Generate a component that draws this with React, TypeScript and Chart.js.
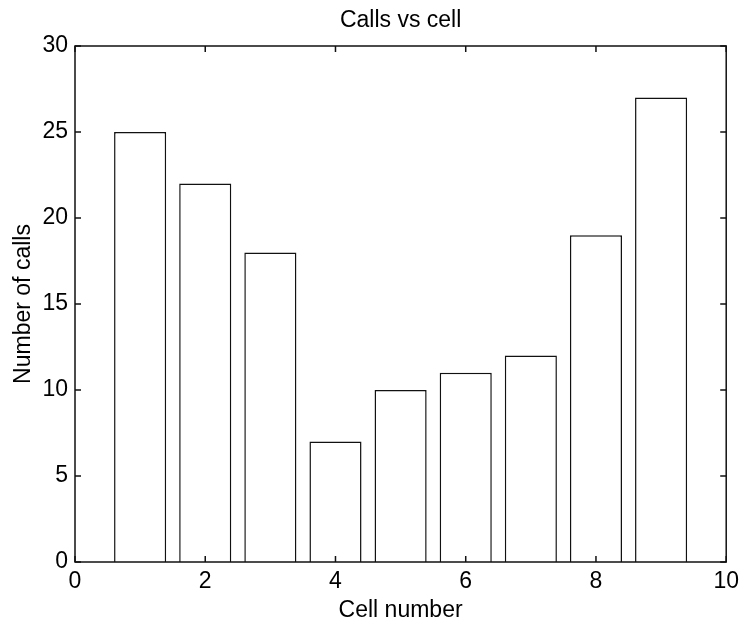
import React, { useEffect, useRef } from "react";
import { Chart, registerables } from "chart.js";

Chart.register(...registerables);

const cells = [1, 2, 3, 4, 5, 6, 7, 8, 9];
const calls = [25, 22, 18, 7, 10, 11, 12, 19, 27];
const titleText = "Calls vs cell";
const xLabel = "Cell number";
const yLabel = "Number of calls";

const FONT = "'Liberation Sans', Arial, Helvetica, sans-serif";
const FS = 23;

const framePlugin = {
  id: "frame",
  afterDraw(chart: any) {
    const { ctx, chartArea } = chart;
    const { left, right, top, bottom } = chartArea;
    const xs = chart.scales.x;
    const ys = chart.scales.y;
    const tl = 6;
    ctx.save();
    ctx.strokeStyle = "#111";
    ctx.lineWidth = 1.5;
    const L = left;
    const R = right;
    const T = top;
    const B = bottom;
    ctx.strokeRect(L, T, R - L, B - T);
    ctx.beginPath();
    xs.ticks.forEach((t: any) => {
      const px = xs.getPixelForValue(t.value);
      ctx.moveTo(px, B);
      ctx.lineTo(px, B - tl);
      ctx.moveTo(px, T);
      ctx.lineTo(px, T + tl);
    });
    ys.ticks.forEach((t: any) => {
      const py = ys.getPixelForValue(t.value);
      ctx.moveTo(L, py);
      ctx.lineTo(L + tl, py);
      ctx.moveTo(R, py);
      ctx.lineTo(R - tl, py);
    });
    ctx.stroke();
    ctx.fillStyle = "#000";
    ctx.font = `${FS}px ${FONT}`;
    ctx.textAlign = "center";
    ctx.textBaseline = "alphabetic";
    ctx.fillText(titleText, (L + R) / 2, 27);
    ctx.restore();
  },
};

export default function App() {
  const ref = useRef<HTMLCanvasElement | null>(null);
  useEffect(() => {
    if (!ref.current) return;
    const chart = new Chart(ref.current, {
      type: "bar",
      data: {
        datasets: [
          {
            data: cells.map((c, i) => ({ x: c, y: calls[i] })),
            backgroundColor: "#ffffff",
            borderColor: "#111111",
            borderWidth: 1.5,
            categoryPercentage: 1,
            barPercentage: 0.8,
          },
        ],
      },
      options: {
        animation: false,
        responsive: false,
        devicePixelRatio: 1,
        layout: { padding: { left: 0, right: 16, top: 46, bottom: 0 } },
        plugins: {
          legend: { display: false },
          tooltip: { enabled: false },
          title: { display: false },
        },
        scales: {
          x: {
            type: "linear",
            min: 0,
            max: 10,
            offset: false,
            grid: { display: false, drawTicks: false, offset: false },
            border: { display: false },
            ticks: {
              stepSize: 2,
              padding: 6,
              color: "#000",
              font: { family: FONT, size: FS },
              maxRotation: 0,
            },
            title: {
              display: true,
              text: xLabel,
              color: "#000",
              font: { family: FONT, size: FS },
              padding: { top: 0, bottom: 2 },
            },
            afterFit(scale: any) {
              scale.height = 64;
            },
          },
          y: {
            type: "linear",
            min: 0,
            max: 30,
            grid: { display: false, drawTicks: false },
            border: { display: false },
            ticks: {
              stepSize: 5,
              padding: 7,
              color: "#000",
              font: { family: FONT, size: FS },
            },
            title: {
              display: true,
              text: yLabel,
              color: "#000",
              font: { family: FONT, size: FS },
              padding: { top: 10, bottom: 0 },
            },
            afterFit(scale: any) {
              scale.width = 75;
            },
          },
        },
      } as any,
      plugins: [framePlugin],
    });
    return () => chart.destroy();
  }, []);
  return (
    <div style={{ position: "absolute", left: 0, top: 0, width: 745, height: 626, background: "#fff" }}>
      <canvas ref={ref} width={745} height={626} style={{ width: 745, height: 626 }} />
    </div>
  );
}
